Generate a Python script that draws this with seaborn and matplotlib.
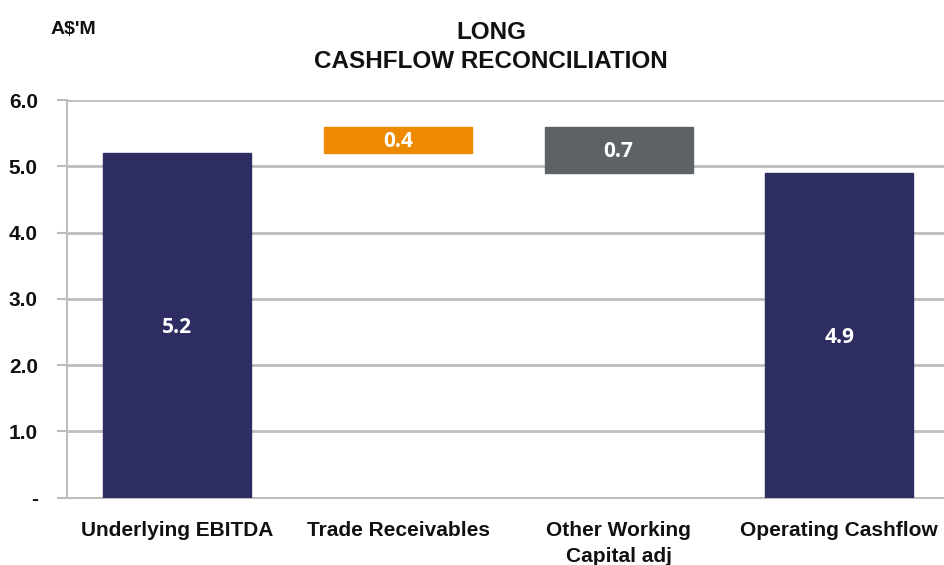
import matplotlib
matplotlib.use('Agg')
import matplotlib.pyplot as plt
import seaborn as sns

# waterfall data (A$'M)
categories = ["Underlying EBITDA", "Trade Receivables", "Other Working\nCapital adj", "Operating Cashflow"]
changes = [5.2, 0.4, -0.7, 4.9]
labels = ["5.2", "0.4", "0.7", "4.9"]
bar_colors = ["#2E2D62", "#EE8A00", "#5E6266", "#2E2D62"]

# floating bars: totals start at 0, movements start from running total
bottoms = [0.0, changes[0], changes[0] + changes[1] + changes[2], 0.0]
heights = [changes[0], changes[1], -changes[2], changes[3]]

sns.set_style("white")
plt.rcParams['font.family'] = ['Liberation Sans', 'DejaVu Sans']
plt.rcParams['text.color'] = '#111111'
plt.rcParams['xtick.color'] = '#111111'
plt.rcParams['ytick.color'] = '#111111'

fig = plt.figure(figsize=(9.44, 5.65), dpi=100)
ax = fig.add_axes([0.071, 0.119, 0.935, 0.704])

sns.barplot(x=categories, y=heights, bottom=bottoms, color=bar_colors[0],
            width=0.67, saturation=1, ax=ax, zorder=3)
for patch, c in zip(ax.patches, bar_colors):
    patch.set_facecolor(c)
    patch.set_edgecolor(c)

# value labels
for i, (b, h, lab) in enumerate(zip(bottoms, heights, labels)):
    ax.text(i, b + h / 2 - 0.03, lab, ha="center", va="center", color="white",
            fontsize=15, fontweight="bold", zorder=4,
            family=['Open Sans', 'Liberation Sans'])

ax.set_ylim(0, 6)
ax.set_xlim(-0.5, 3.5)
ax.set_yticks([0, 1, 2, 3, 4, 5, 6])
ax.set_yticklabels(["-", "1.0", "2.0", "3.0", "4.0", "5.0", "6.0"],
                   fontsize=15, fontweight="bold")
ax.yaxis.grid(True, color="#BDBDBD", linewidth=2, zorder=0)
ax.set_axisbelow(True)

ax.set_xticks([0, 1, 2, 3])
ax.set_xticklabels(categories, fontsize=15, fontweight="bold", linespacing=1.45)
ax.set_xticks([-0.5, 0.5, 1.5, 2.5, 3.5], minor=True)
ax.tick_params(axis="x", which="major", length=0, pad=17)
ax.tick_params(axis="x", which="minor", length=7, color="#BDBDBD", width=1.5)
ax.tick_params(axis="y", length=7, color="#BDBDBD", labelcolor="#111111",
               width=1.5, left=True, pad=14)

for s in ["top", "right"]:
    ax.spines[s].set_visible(False)
for s in ["left", "bottom"]:
    ax.spines[s].set_color("#BDBDBD")
    ax.spines[s].set_linewidth(1.5)
ax.set_xlabel("")
ax.set_ylabel("")

fig.text(0.52, 0.943, "LONG", ha="center", va="center", fontsize=17.5, fontweight="bold")
fig.text(0.52, 0.892, "CASHFLOW RECONCILIATION", ha="center", va="center",
         fontsize=17.5, fontweight="bold")
fig.text(0.053, 0.948, "A$'M", ha="left", va="center", fontsize=14, fontweight="bold")

fig.savefig("out.png", dpi=100)
plt.close(fig)
